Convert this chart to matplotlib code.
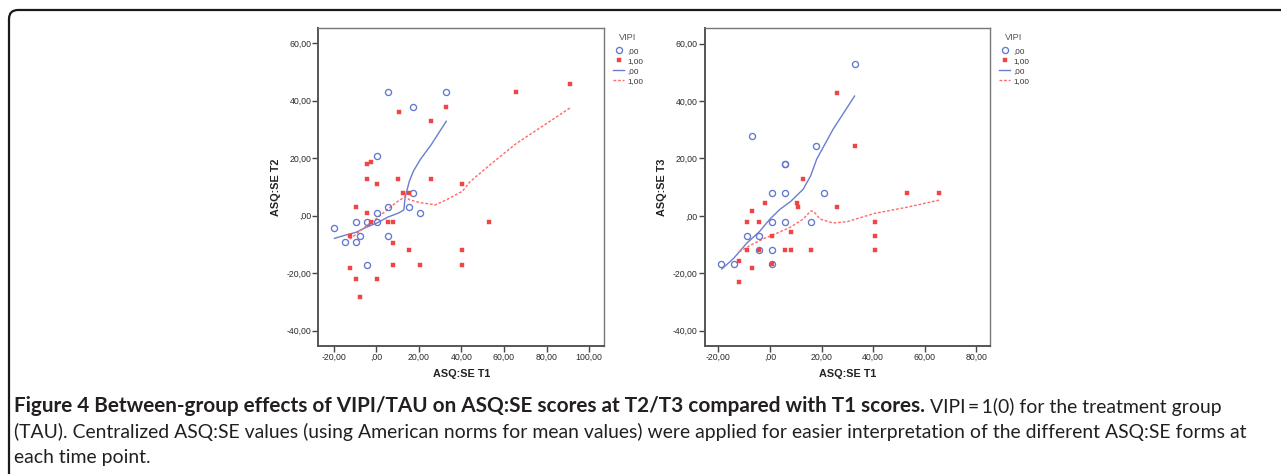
import matplotlib
matplotlib.use("Agg")
import matplotlib.pyplot as plt
from matplotlib.patches import FancyBboxPatch
from matplotlib.transforms import IdentityTransform

# ---- data ----
# left panel: ASQ:SE T1 (x) vs T2 (y)
t2_blue_x = [5.5, 17.5, 32.9, 0.5, 5.5, 15.6, 17.5, 20.7, 0.5, -9.5, -4.5, 0.5,
             -19.6, -14.6, -9.5, -7.5, 5.5, -4.5]
t2_blue_y = [43.0, 37.9, 43.0, 20.8, 2.9, 2.9, 7.9, 0.8, 0.8, -2.1, -2.1, -2.1,
             -4.2, -9.2, -9.2, -7.1, -7.1, -17.1]
t2_red_x = [10.5, 32.9, 25.7, -4.5, -2.5, -4.5, 10.2, 25.7, 0.5, 40.5, -9.5, 12.7,
            15.6, -4.5, 65.7, 91.0, -2.5, 5.5, 7.7, 53.2, -12.5, 7.7, 15.6, 40.5,
            7.7, 20.7, 40.5, -12.5, -9.5, 0.5, -7.5]
t2_red_y = [35.9, 37.9, 33.0, 17.9, 18.8, 12.9, 12.9, 12.9, 10.9, 10.9, 3.0, 7.9,
            7.9, 0.8, 43.0, 45.9, -2.1, -2.1, -2.1, -2.1, -7.1, -9.6, -12.1, -12.1,
            -17.1, -17.1, -17.1, -18.2, -22.1, -22.1, -28.3]
# loess fit lines
t2_fit0_x = [-19.6, -14.6, -9.5, -4.5, 0.5, 5.5, 10.5, 13.0, 13.6, 15.6, 17.5, 20.7, 25.7, 32.9]
t2_fit0_y = [-7.9, -6.8, -5.8, -4.0, -2.5, -0.5, 0.9, 2.0, 6.5, 12.0, 15.5, 19.5, 24.5, 32.8]
t2_fit1_x = [-12.5, -9.5, -4.5, 0.5, 5.5, 10.2, 13.6, 15.6, 20.7, 25.7, 27.7, 33.0,
             40.5, 44.1, 53.2, 65.7, 91.0]
t2_fit1_y = [-8.2, -6.5, -3.5, -0.8, 2.3, 5.0, 6.6, 5.5, 4.5, 4.0, 3.7, 5.5,
             8.5, 11.8, 17.5, 25.0, 37.4]

# right panel: ASQ:SE T1 (x) vs T3 (y)
t3_blue_x = [32.8, -7.1, 17.8, 5.8, 5.8, 0.9, 5.8, 20.8, 0.9, 5.8, 15.8, -9.0,
             -4.1, -4.1, 0.9, 0.9, -19.0, -14.1]
t3_blue_y = [52.9, 27.8, 24.2, 18.0, 18.0, 8.0, 8.0, 8.0, -2.0, -2.0, -2.0, -7.0,
             -7.0, -11.9, -11.9, -16.9, -16.9, -16.9]
t3_red_x = [25.8, 32.8, 12.9, -2.1, 10.3, 10.9, -7.1, 25.8, 53.1, 65.7, -9.0, -4.1,
            40.7, 0.9, 8.0, 40.7, -9.0, -4.1, 5.9, 8.0, 15.8, 40.7, -11.9, -7.1,
            0.9, -11.9]
t3_red_y = [42.9, 24.2, 12.9, 4.4, 4.4, 3.0, 1.6, 3.0, 7.9, 7.9, -2.0, -2.0,
            -2.0, -7.0, -5.7, -7.0, -11.9, -11.9, -11.9, -11.9, -11.9, -11.9, -15.6, -18.2,
            -16.9, -23.1]
t3_fit0_x = [-18.7, -14.1, -9.0, -4.1, 0.0, 3.9, 8.0, 12.9, 15.8, 18.1, 24.5, 32.8]
t3_fit0_y = [-18.5, -14.8, -9.5, -5.5, -1.1, 2.3, 5.0, 9.3, 14.0, 19.7, 30.2, 41.7]
t3_fit1_x = [-11.9, -7.1, -2.1, 2.0, 7.8, 12.9, 15.8, 17.0, 19.4, 24.5, 30.0, 40.7, 53.1, 65.7]
t3_fit1_y = [-12.5, -10.0, -7.8, -6.3, -4.0, -1.1, 1.7, 1.5, -1.1, -2.5, -2.0, 0.9, 3.0, 5.5]

y_ticks = [-40, -20, 0, 20, 40, 60]
y_labels = ["-40,00", "-20,00", ",00", "20,00", "40,00", "60,00"]
x_ticks_left = [-20, 0, 20, 40, 60, 80, 100]
x_labels_left = ["-20,00", ",00", "20,00", "40,00", "60,00", "80,00", "100,00"]
x_ticks_right = [-20, 0, 20, 40, 60, 80]
x_labels_right = ["-20,00", ",00", "20,00", "40,00", "60,00", "80,00"]
legend_labels = [",00", "1,00", ",00", "1,00"]

caption_bold = ("Figure 4 Between-group effects of VIPI/TAU on ASQ:SE scores "
                "at T2/T3 compared with T1 scores.")
caption_rest = " VIPI\u2009=\u20091(0) for the treatment group"
caption_2 = ("(TAU). Centralized ASQ:SE values (using American norms for mean values) "
             "were applied for easier interpretation of the different ASQ:SE forms at")
caption_3 = "each time point."

BLUE = "#6377cf"
RED = "#f04545"
W, H = 1281, 474

fig = plt.figure(figsize=(W / 100, H / 100), dpi=100)
fig.patch.set_facecolor("white")


def make_panel(rect, xlim, ylim, bx, by, rx, ry, f0x, f0y, f1x, f1y,
               xt, xl, ylab, leg_x):
    ax = fig.add_axes(rect)
    ax.set_xlim(*xlim)
    ax.set_ylim(*ylim)
    h_c, = ax.plot(bx, by, "o", ms=4.4, mfc="none", mec=BLUE, mew=0.95, zorder=3)
    h_r, = ax.plot(rx, ry, "s", ms=2.2, color=RED, mec=RED, mew=0.3, zorder=3)
    h_l0, = ax.plot(f0x, f0y, "-", color="#6a7ecf", lw=1.0, zorder=2)
    h_l1, = ax.plot(f1x, f1y, color="#ff6a6a", lw=1.0, ls=(0, (2, 1.3)), zorder=2)
    ax.set_xticks(xt)
    ax.set_xticklabels(xl, family="Liberation Sans")
    ax.set_yticks(y_ticks)
    ax.set_yticklabels(y_labels, family="Liberation Sans")
    ax.tick_params(axis="both", labelsize=6.3, labelcolor="#2a2a2a", color="#444444",
                   length=4, width=1, pad=1, direction="out")
    ax.tick_params(top=False, right=False)
    for s in ["left", "bottom"]:
        ax.spines[s].set_color("#555555")
        ax.spines[s].set_linewidth(1.4)
    for s in ["top", "right"]:
        ax.spines[s].set_color("#777777")
        ax.spines[s].set_linewidth(1.0)
    ax.set_xlabel("ASQ:SE T1", fontsize=7.8, fontweight="bold",
                  family="Liberation Sans", labelpad=5, color="#222222")
    ax.set_ylabel(ylab, fontsize=7.8, fontweight="bold",
                  family="Liberation Sans", labelpad=4, color="#222222")
    # legend: title drawn separately, entries below it
    fig.text((leg_x + 15) / W, 1 - 37 / H, "VIPI", ha="center", va="center",
             family="Liberation Sans", fontsize=6.6, color="#555555")
    leg = ax.legend([h_c, h_r, h_l0, h_l1], legend_labels,
                    loc="upper left", bbox_to_anchor=(leg_x / W, 1 - 47.5 / H),
                    bbox_transform=fig.transFigure, frameon=False,
                    prop={"family": "Liberation Sans", "size": 5.9},
                    handlelength=1.4, handletextpad=0.3, labelspacing=0.28,
                    borderaxespad=0, borderpad=0)
    for t in leg.get_texts():
        t.set_color("#333333")
    return ax


make_panel([318.3 / W, 128 / H, 285.7 / W, 318.3 / H], (-27.2, 107.0), (-45.3, 65.3),
           t2_blue_x, t2_blue_y, t2_red_x, t2_red_y,
           t2_fit0_x, t2_fit0_y, t2_fit1_x, t2_fit1_y,
           x_ticks_left, x_labels_left, "ASQ:SE T2", 613)
make_panel([704.7 / W, 128 / H, 285.3 / W, 318.3 / H], (-25.3, 85.3), (-45.3, 65.5),
           t3_blue_x, t3_blue_y, t3_red_x, t3_red_y,
           t3_fit0_x, t3_fit0_y, t3_fit1_x, t3_fit1_y,
           x_ticks_right, x_labels_right, "ASQ:SE T3", 999)

# outer frame with rounded top-left corner
frame = FancyBboxPatch((9, -30), 1400, H - 10 + 30, boxstyle="round,pad=0,rounding_size=9",
                       transform=IdentityTransform(), fill=False, ec="#1a1a1a", lw=1.6)
fig.patches.append(frame)

# caption
cap_kw = dict(family="Lato", color="#231f20")
c1 = fig.text(14 / W, 1 - 412.5 / H, caption_bold, fontsize=11.5, fontweight="bold",
              va="baseline", **cap_kw)
c2 = fig.text(14 / W, 1 - 438 / H, caption_2, fontsize=11.5, va="baseline", **cap_kw)
c3 = fig.text(14 / W, 1 - 463.5 / H, caption_3, fontsize=11.5, va="baseline", **cap_kw)

fig.canvas.draw()
r = fig.canvas.get_renderer()
s2 = 11.5 * 1235 / c2.get_window_extent(r).width
c2.set_fontsize(s2)
c3.set_fontsize(s2)
c1.set_fontsize(11.5 * 912 / c1.get_window_extent(r).width)
c1r = fig.text(0, 0, caption_rest, fontsize=s2, va="baseline", **cap_kw)
fig.canvas.draw()
bb = c1.get_window_extent(r)
c1r.set_position((bb.x1 / W, 1 - 412.5 / H))

fig.savefig("out.png", dpi=100, facecolor="white")
